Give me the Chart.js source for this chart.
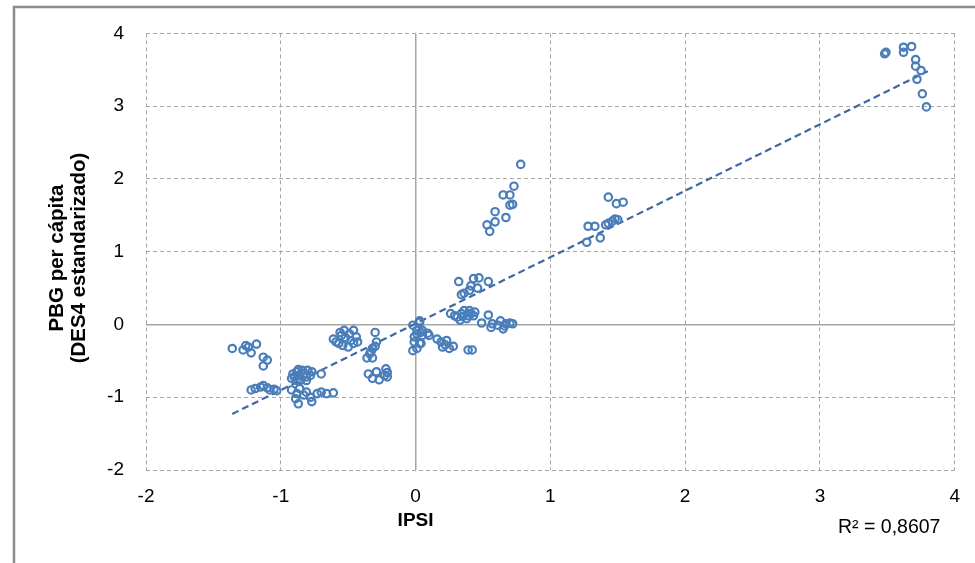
<!DOCTYPE html>
<html>
<head>
<meta charset="utf-8">
<script src="https://cdn.jsdelivr.net/npm/chart.js@4"></script>
<style>
  html, body { margin: 0; padding: 0; background: #fff; }
  canvas { display: block; }
</style>
</head>
<body>
<canvas id="chart" width="975" height="563"></canvas>
<script>
// IPSI (x) and PBG per cápita (y), grouped by cluster
const ipsi = [
  -1.36, -1.28, -1.26, -1.24, -1.22, -1.18, -1.13, -1.10, -1.13,
  -1.22, -1.19, -1.15, -1.13, -1.10, -1.08, -1.05, -1.03,
  -0.91, -0.88, -0.86, -0.83, -0.81, -0.77, -0.70, -0.92, -0.88, -0.85, -0.81, -0.87, -0.80, -0.84, -0.90, -0.78,
  -0.92, -0.88, -0.89, -0.87, -0.83, -0.78, -0.77, -0.73, -0.70, -0.66, -0.61, -0.86, -0.81,
  -0.61, -0.59, -0.56, -0.53, -0.49, -0.46, -0.44, -0.43, -0.54, -0.50, -0.46, -0.57, -0.52, -0.48, -0.55,
  -0.30, -0.29, -0.32, -0.34, -0.36, -0.32, -0.30, -0.33,
  -0.35, -0.32, -0.29, -0.27, -0.23, -0.22, -0.21, -0.21,
  -0.02, 0.01, 0.03, 0.05, -0.01, -0.02, 0.01, 0.04, 0.03, 0.01, 0.04, -0.01, 0.05, 0.09, 0.10, 0.03,
  0.16, 0.19, 0.23, 0.20, 0.25, 0.22, 0.28, 0.39, 0.42,
  0.26, 0.29, 0.31, 0.34, 0.36, 0.39, 0.41, 0.44, 0.33, 0.38, 0.40, 0.35, 0.43,
  0.54, 0.49, 0.57, 0.56, 0.63, 0.65, 0.67, 0.70, 0.61, 0.66, 0.72,
  0.32, 0.43, 0.47, 0.54, 0.41, 0.46, 0.34, 0.36, 0.40,
  0.78, 0.73, 0.65, 0.70, 0.70, 0.72, 0.59, 0.67, 0.59, 0.53, 0.55,
  1.43, 1.49, 1.54, 1.48, 1.46, 1.43, 1.41, 1.28, 1.33, 1.27, 1.37, 1.50,
  3.48, 3.49, 3.62, 3.62, 3.68, 3.71, 3.71, 3.75, 3.72, 3.76, 3.79
];
const pbg = [
  -0.33, -0.35, -0.29, -0.31, -0.39, -0.27, -0.45, -0.49, -0.57,
  -0.90, -0.88, -0.86, -0.84, -0.87, -0.90, -0.89, -0.91,
  -0.68, -0.65, -0.70, -0.68, -0.72, -0.65, -0.68, -0.74, -0.77, -0.76, -0.77, -0.62, -0.63, -0.63, -0.72, -0.70,
  -0.90, -0.95, -1.02, -1.09, -0.97, -1.00, -1.06, -0.95, -0.93, -0.95, -0.94, -0.88, -0.93,
  -0.20, -0.24, -0.11, -0.08, -0.13, -0.08, -0.17, -0.24, -0.29, -0.31, -0.26, -0.26, -0.18, -0.22, -0.15,
  -0.11, -0.24, -0.33, -0.40, -0.46, -0.46, -0.30, -0.37,
  -0.68, -0.74, -0.65, -0.76, -0.70, -0.61, -0.72, -0.66,
  -0.01, -0.13, 0.05, -0.08, -0.24, -0.36, -0.33, -0.26, 0.03, -0.08, -0.11, -0.17, -0.15, -0.12, -0.15, -0.26,
  -0.20, -0.24, -0.22, -0.31, -0.33, -0.28, -0.30, -0.35, -0.35,
  0.15, 0.12, 0.10, 0.15, 0.19, 0.12, 0.15, 0.17, 0.06, 0.08, 0.19, 0.11, 0.12,
  0.13, 0.02, 0.01, -0.04, 0.05, -0.06, 0.01, 0.02, -0.01, -0.02, 0.01,
  0.59, 0.63, 0.64, 0.59, 0.53, 0.50, 0.41, 0.43, 0.47,
  2.20, 1.90, 1.78, 1.78, 1.64, 1.65, 1.55, 1.47, 1.41, 1.37, 1.28,
  1.75, 1.66, 1.68, 1.45, 1.42, 1.39, 1.37, 1.35, 1.35, 1.13, 1.19, 1.44,
  3.72, 3.74, 3.81, 3.74, 3.82, 3.64, 3.55, 3.49, 3.37, 3.17, 2.99
];

// linear trendline end points as drawn
const trendX = [-1.36, 3.80];
const trendY = [-1.23, 3.48];

const xTicks = [-2, -1, 0, 1, 2, 3, 4];
const yTicks = [-2, -1, 0, 1, 2, 3, 4];

const xTitle = 'IPSI';
const yTitle = ['PBG per cápita', '(DES4 estandarizado)'];
const r2Label = 'R² = 0,8607';

const FONT = '"Liberation Sans", Arial, sans-serif';
const GRID = '#a6a6a6';

// frame, axis titles and R² label are drawn by hand
const decor = {
  id: 'decor',
  beforeDraw(chart) {
    const ctx = chart.ctx;
    ctx.save();
    ctx.strokeStyle = '#8c8c8c';
    ctx.lineWidth = 2.5;
    ctx.strokeRect(14, 7, 1000, 600);
    ctx.restore();
  },
  afterDraw(chart) {
    const ctx = chart.ctx;
    const x = chart.scales.x;
    ctx.save();
    ctx.fillStyle = '#000';
    ctx.font = 'bold 19px ' + FONT;
    ctx.textAlign = 'center';
    ctx.textBaseline = 'middle';
    ctx.fillText(xTitle, x.getPixelForValue(0), 521);

    ctx.save();
    ctx.translate(57, 258);
    ctx.rotate(-Math.PI / 2);
    ctx.font = 'bold 20.5px ' + FONT;
    ctx.fillText(yTitle[0], 0, 0);
    ctx.fillText(yTitle[1], 0, 22);
    ctx.restore();

    ctx.font = '19.5px ' + FONT;
    ctx.textAlign = 'left';
    ctx.fillText(r2Label, 838, 528);
    ctx.restore();
  }
};

new Chart(document.getElementById('chart'), {
  type: 'scatter',
  data: {
    datasets: [
      {
        label: 'PBG',
        data: ipsi.map((v, i) => ({ x: v, y: pbg[i] })),
        pointStyle: 'circle',
        pointRadius: 3.7,
        pointBorderWidth: 2.2,
        pointBorderColor: '#4a7ebb',
        pointBackgroundColor: 'rgba(0,0,0,0)',
        showLine: false
      },
      {
        label: 'Tendencia',
        data: trendX.map((v, i) => ({ x: v, y: trendY[i] })),
        showLine: true,
        borderColor: '#3c68a3',
        borderWidth: 2.2,
        borderDash: [7, 4],
        pointRadius: 0
      }
    ]
  },
  options: {
    responsive: false,
    animation: false,
    layout: { padding: { top: 32, right: 18, left: 0, bottom: 0 } },
    plugins: { legend: { display: false }, tooltip: { enabled: false } },
    scales: {
      x: {
        type: 'linear',
        min: -2,
        max: 4,
        afterBuildTicks: s => { s.ticks = xTicks.map(v => ({ value: v })); },
        afterFit: s => { s.height = 93; },
        ticks: { color: '#000', font: { family: FONT, size: 19 }, padding: 15 },
        grid: {
          color: GRID,
          lineWidth: c => (c.tick && c.tick.value === 0 ? 1.5 : 1),
          drawTicks: false
        },
        border: { display: false, dash: c => (c.tick && c.tick.value === 0 ? [] : [4, 3]) }
      },
      y: {
        type: 'linear',
        min: -2,
        max: 4,
        afterBuildTicks: s => { s.ticks = yTicks.map(v => ({ value: v })); },
        afterFit: s => { s.width = 146; },
        ticks: { color: '#000', font: { family: FONT, size: 19 }, padding: 22 },
        grid: {
          color: GRID,
          lineWidth: c => (c.tick && c.tick.value === 0 ? 1.5 : 1),
          drawTicks: false
        },
        border: { display: false, dash: c => (c.tick && c.tick.value === 0 ? [] : [4, 3]) }
      }
    }
  },
  plugins: [decor]
});
</script>
</body>
</html>
